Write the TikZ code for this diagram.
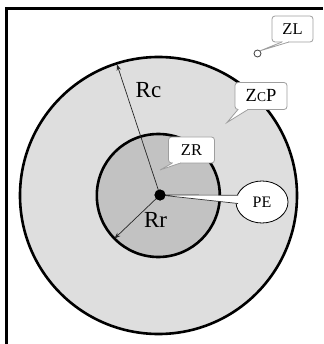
\documentclass[tikz,border=0pt]{standalone}
\usepackage{fontspec}
\setmainfont{Liberation Serif}
\usetikzlibrary{arrows.meta,shapes.geometric}
\definecolor{outerfill}{gray}{0.87}
\definecolor{innerfill}{gray}{0.76}
\definecolor{callgray}{gray}{0.62}
\tikzset{
  ring/.style={circle, draw=black, line width=2.6pt, inner sep=0pt, outer sep=0pt},
  callbox/.style={draw=callgray, fill=white, rounded corners=3pt, line width=0.8pt, inner sep=0pt, outer sep=0pt, font=\fontsize{16.5}{16.5}\selectfont},
  ptr/.style={draw=callgray, fill=white, line width=0.8pt, line join=miter},
  radius arrow/.style={draw=black!85, line width=0.7pt, -{Stealth[length=6pt,width=4.5pt]}},
  biglabel/.style={font=\fontsize{23}{23}\selectfont, inner sep=0pt},
}
\begin{document}
\begin{tikzpicture}[x=1pt, y=-1pt]
\useasboundingbox (0,0) rectangle (323,344);
% frame
\draw[line width=3pt] (6.3,344) -- (6.3,8.2) -- (323,8.2);
% circles
\node[ring, fill=outerfill, minimum size=277pt] (outer) at (158.5,195.5) {};
\node[ring, fill=innerfill, minimum size=123pt] (inner) at (158.3,195.5) {};
\node[circle, fill=black, minimum size=11pt, inner sep=0pt] (dot) at (160,195) {};
% radius arrows
\coordinate (rctip) at (117,64.5);
\coordinate (rrtip) at (114.5,238.5);
\draw[radius arrow] (dot.center) -- (rctip);
\draw[radius arrow] (dot.center) -- (rrtip);
\node[biglabel] (rc) at (148.5,90) {Rc};
\node[biglabel] (rr) at (155.5,220) {Rr};
% PE pointer and ellipse
\node[ellipse, draw=black, fill=white, line width=0.8pt, minimum width=52pt, minimum height=42pt, inner sep=0pt, font=\fontsize{16}{16}\selectfont] (pe) at (262,202) {PE};
\coordinate (peA) at (238,195.2);
\coordinate (peB) at (238,203.5);
\fill[white] (dot.center) -- (peA) -- (peB) -- cycle;
\draw[black!80, line width=0.7pt] (dot.center) -- (peA) (dot.center) -- (peB);
\node[circle, fill=black, minimum size=11pt, inner sep=0pt] at (dot) {};
% callout ZR
\coordinate (zrtip) at (160,170);
\node[callbox, minimum width=46pt, minimum height=26pt] (zr) at (191.5,150) {ZR};
\draw[ptr] ([xshift=4pt]zr.south west) -- (zrtip) -- ([xshift=12pt]zr.south west);
\fill[white] ([xshift=4.6pt,yshift=1.2pt]zr.south west) rectangle ([xshift=11.2pt,yshift=-0.3pt]zr.south west);
% callout ZcP
\coordinate (zcptip) at (227,122.5);
\node[callbox, minimum width=52pt, minimum height=27pt, font=\fontsize{18.5}{18.5}\selectfont] (zcp) at (261,96) {Z{\fontsize{13.5}{13.5}\selectfont C}P};
\draw[ptr] ([xshift=3pt]zcp.south west) -- (zcptip) -- ([xshift=13pt]zcp.south west);
\fill[white] ([xshift=3.6pt,yshift=1.2pt]zcp.south west) rectangle ([xshift=12.2pt,yshift=-0.3pt]zcp.south west);
% callout ZL
\node[circle, draw=black!75, fill=white, line width=0.8pt, minimum size=7pt, inner sep=0pt] (zlc) at (257.5,53.5) {};
\node[callbox, minimum width=41pt, minimum height=26pt] (zl) at (292.5,29) {ZL};
\draw[ptr] ([xshift=10pt]zl.south west) -- (zlc.north east) -- ([xshift=17pt]zl.south west);
\fill[white] ([xshift=10.6pt,yshift=1.2pt]zl.south west) rectangle ([xshift=16.2pt,yshift=-0.3pt]zl.south west);
\end{tikzpicture}
\end{document}
